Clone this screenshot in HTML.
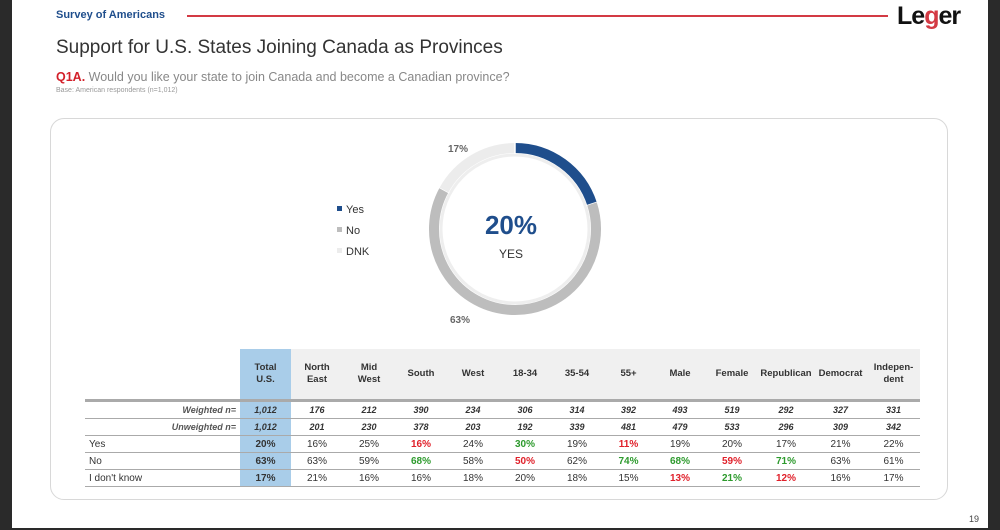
<!DOCTYPE html>
<html><head><meta charset="utf-8"><style>
body{margin:0;width:1000px;height:530px;background:#2a2a2a;font-family:"Liberation Sans",sans-serif;position:relative;overflow:hidden}
#page{position:absolute;left:12px;top:0;width:976px;height:528px;background:#fff}
.abs{position:absolute;white-space:nowrap}
#card{position:absolute;left:50px;top:118px;width:898px;height:382px;border:1.5px solid #d8d8d8;border-radius:14px;box-sizing:border-box}
table{position:absolute;left:85px;top:349px;border-collapse:collapse;font-size:10px;color:#333;table-layout:fixed}
td{height:16px;text-align:center;padding:0;border-bottom:1.5px solid #aaa}
th{height:50px;background:#f0f0f0;font-size:9.5px;font-weight:bold;color:#333;border-bottom:3px solid #aaa;padding:0;line-height:12px}
.lab{text-align:left;padding-left:4px}
.nl{text-align:right;font-style:italic;font-size:8px;color:#555;padding-right:4px}
.tot{background:#a9cde9;font-weight:bold}
.n td{font-style:italic;font-weight:bold;font-size:9px}
.r{color:#e0202a;font-weight:bold}.g{color:#2d9a2d;font-weight:bold}
</style></head><body>
<div id="page"></div>
<div class="abs" style="left:56px;top:9px;font-size:11px;font-weight:bold;color:#1f4e8c">Survey of Americans</div>
<div class="abs" style="left:187px;top:15px;width:701px;height:2px;background:#d33a44"></div>
<div class="abs" style="left:897px;top:2px;font-size:25px;font-weight:bold;color:#111;letter-spacing:-1px">Le<span style="color:#d33a44">g</span>er</div>
<div class="abs" style="left:56px;top:37px;font-size:19px;color:#333">Support for U.S. States Joining Canada as Provinces</div>
<div class="abs" style="left:56px;top:70px;font-size:12.5px;color:#888"><b style="color:#d3202a">Q1A.</b> Would you like your state to join Canada and become a Canadian province?</div>
<div class="abs" style="left:56px;top:87px;font-size:7px;color:#999">Base: American respondents (n=1,012)</div>
<div id="card"></div>
<svg class="abs" style="left:0;top:0" width="1000" height="530">
<circle cx="515" cy="229" r="74" fill="#fff" stroke="#eee" stroke-width="3"/>
<g id="donut"></g>
<text x="511" y="234" text-anchor="middle" font-size="26" font-weight="bold" fill="#1f4e8c">20%</text>
<text x="511" y="258" text-anchor="middle" font-size="12" fill="#333">YES</text>
<text x="458" y="152" text-anchor="middle" font-size="10" font-weight="bold" fill="#666">17%</text>
<text x="460" y="323" text-anchor="middle" font-size="10" font-weight="bold" fill="#666">63%</text>
<g font-size="11" fill="#333">
<rect x="337" y="206" width="5" height="5" fill="#1f4e8c"/><text x="346" y="213">Yes</text>
<rect x="337" y="227" width="5" height="5" fill="#bdbdbd"/><text x="346" y="234">No</text>
<rect x="337" y="248" width="5" height="5" fill="#ececec"/><text x="346" y="255">DNK</text>
</g>
</svg>
<table style="width:835px">
<colgroup><col style="width:155px"><col style="width:51px"><col style="width:52px"><col style="width:52px"><col style="width:52px"><col style="width:52px"><col style="width:52px"><col style="width:52px"><col style="width:51px"><col style="width:52px"><col style="width:52px"><col style="width:56px"><col style="width:53px"><col style="width:53px"></colgroup>
<tr><th style="background:#fff"></th><th class="tot">Total<br>U.S.</th><th>North<br>East</th><th>Mid<br>West</th><th>South</th><th>West</th><th>18-34</th><th>35-54</th><th>55+</th><th>Male</th><th>Female</th><th>Republican</th><th>Democrat</th><th>Indepen-<br>dent</th></tr>
<tr class="n"><td class="nl">Weighted n=</td><td class="tot">1,012</td><td>176</td><td>212</td><td>390</td><td>234</td><td>306</td><td>314</td><td>392</td><td>493</td><td>519</td><td>292</td><td>327</td><td>331</td></tr>
<tr class="n"><td class="nl">Unweighted n=</td><td class="tot">1,012</td><td>201</td><td>230</td><td>378</td><td>203</td><td>192</td><td>339</td><td>481</td><td>479</td><td>533</td><td>296</td><td>309</td><td>342</td></tr>
<tr><td class="lab">Yes</td><td class="tot">20%</td><td>16%</td><td>25%</td><td class="r">16%</td><td>24%</td><td class="g">30%</td><td>19%</td><td class="r">11%</td><td>19%</td><td>20%</td><td>17%</td><td>21%</td><td>22%</td></tr>
<tr><td class="lab">No</td><td class="tot">63%</td><td>63%</td><td>59%</td><td class="g">68%</td><td>58%</td><td class="r">50%</td><td>62%</td><td class="g">74%</td><td class="g">68%</td><td class="r">59%</td><td class="g">71%</td><td>63%</td><td>61%</td></tr>
<tr><td class="lab">I don't know</td><td class="tot">17%</td><td>21%</td><td>16%</td><td>16%</td><td>18%</td><td>20%</td><td>18%</td><td>15%</td><td class="r">13%</td><td class="g">21%</td><td class="r">12%</td><td>16%</td><td>17%</td></tr>
</table>
<div class="abs" style="left:969px;top:514px;font-size:9px;color:#444">19</div>
<script>
const categories=["Yes","No","DNK"];
const values=[20,63,17];
const colors=["#1f4e8c","#bdbdbd","#ececec"];
const cx=515,cy=229,R=81,W=10;
const g=document.getElementById('donut');
let start=0;const tot=values.reduce((a,b)=>a+b,0);
function pt(f,r){const a=f*2*Math.PI-Math.PI/2;return [cx+r*Math.cos(a),cy+r*Math.sin(a)];}
values.forEach((v,i)=>{
 const f0=start/tot,f1=(start+v)/tot;start+=v;
 const [x0,y0]=pt(f0,R),[x1,y1]=pt(f1,R);
 const p=document.createElementNS('http://www.w3.org/2000/svg','path');
 p.setAttribute('d',`M${x0},${y0} A${R},${R} 0 ${f1-f0>0.5?1:0} 1 ${x1},${y1}`);
 p.setAttribute('fill','none');p.setAttribute('stroke',colors[i]);p.setAttribute('stroke-width',W);
 
 
 g.appendChild(p);
 const s=document.createElementNS('http://www.w3.org/2000/svg','line');
 const [ax,ay]=pt(f1,R-6),[bx,by]=pt(f1,R+6);
 s.setAttribute('x1',ax);s.setAttribute('y1',ay);s.setAttribute('x2',bx);s.setAttribute('y2',by);
 s.setAttribute('stroke','#fff');s.setAttribute('stroke-width','1.5');
 
 
 g.appendChild(s);
});
</script>
</body></html>
